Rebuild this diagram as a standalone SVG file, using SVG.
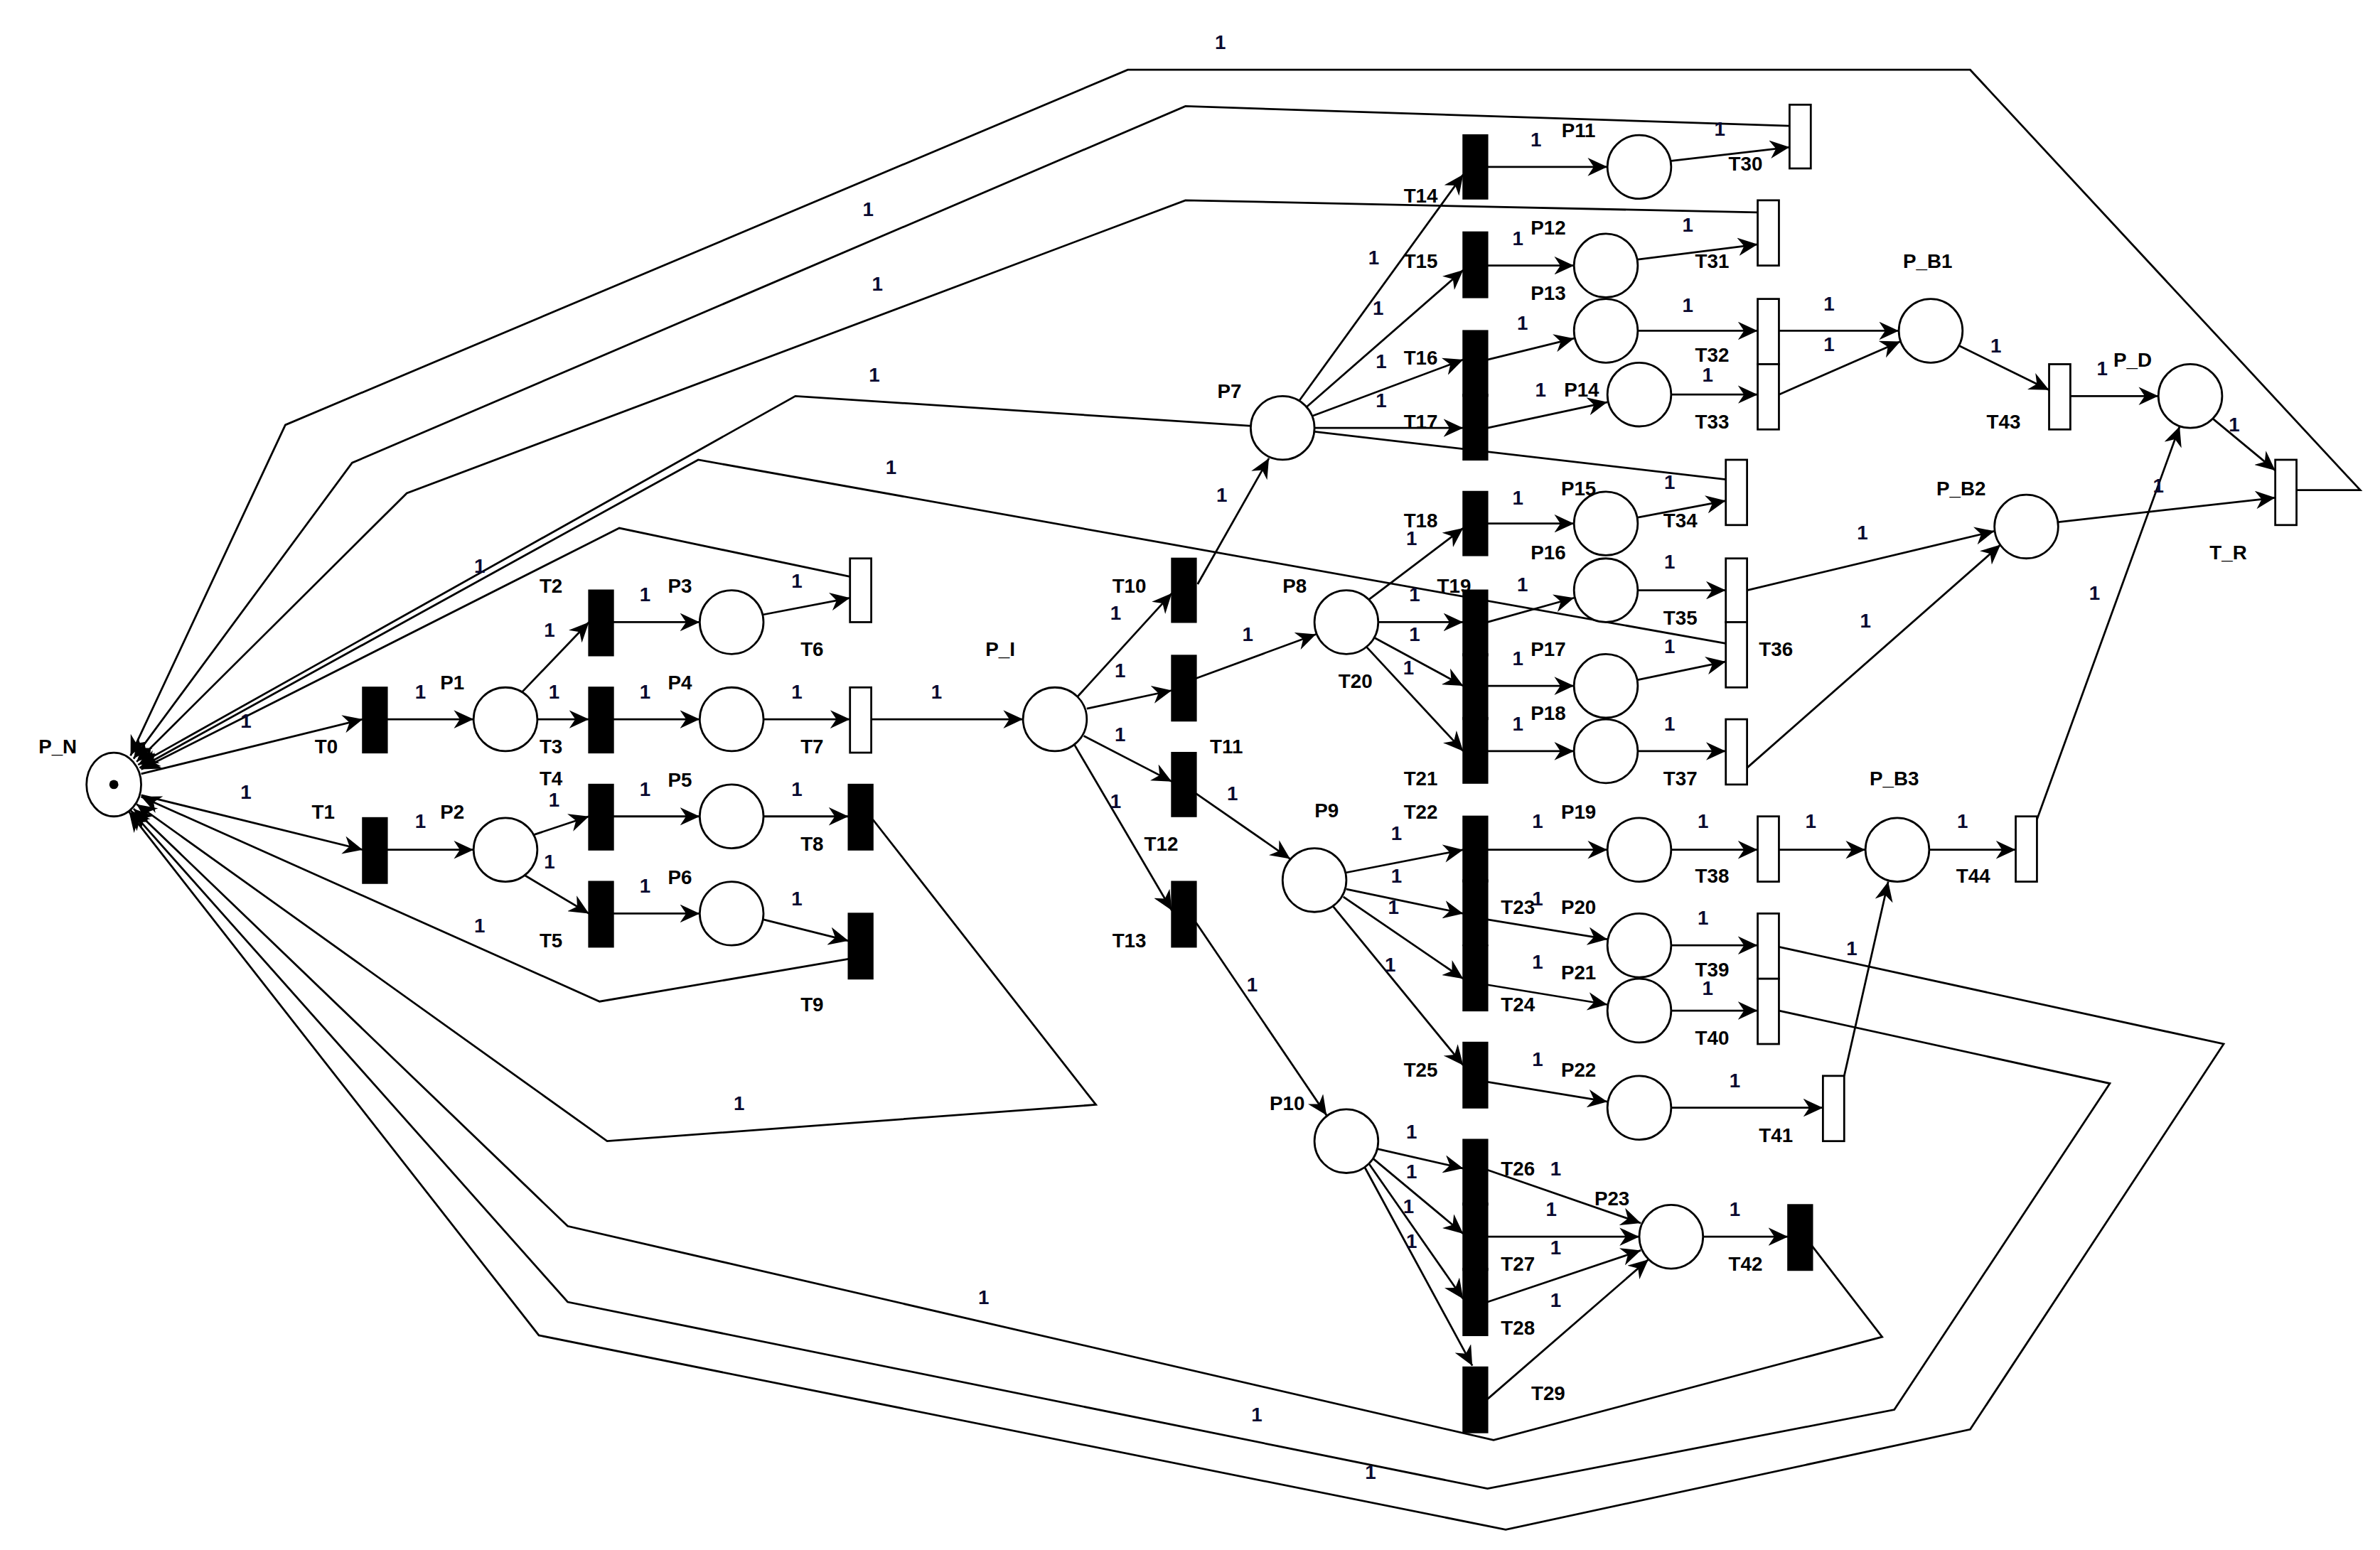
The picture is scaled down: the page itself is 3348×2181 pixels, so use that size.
<svg xmlns="http://www.w3.org/2000/svg" width="3348" height="2181" viewBox="0 0 3348 2181">
<style>
.pl{fill:#fff;stroke:#000;stroke-width:1.3}
.tb{fill:#000;stroke:#000;stroke-width:1}
.tw{fill:#fff;stroke:#000;stroke-width:1.3}
.e{fill:none;stroke:#000;stroke-width:1.3}
.a{marker-end:url(#ar)}
text{font-family:"Liberation Sans",Arial,sans-serif;font-weight:bold;font-size:13px;fill:#000;text-anchor:middle;dominant-baseline:central}
.w{fill:#0a0a30}
</style>
<defs>
<marker id="ar" markerWidth="14" markerHeight="12" refX="13" refY="6" orient="auto" markerUnits="userSpaceOnUse">
<path d="M0,0 L13,6 L0,12 L4,6 z" fill="#000"/>
</marker>
</defs>
<rect width="3348" height="2181" fill="#fff"/>
<g transform="scale(2.1352)">
<g id="connectors">
<path class="e a" d="M93,510L239,474"/>
<path class="e a" d="M93,524L239,560"/>
<path class="e a" d="M255,474L312,474"/>
<path class="e a" d="M255,560L312,560"/>
<path class="e a" d="M344,456L388,410"/>
<path class="e a" d="M354,474L388,474"/>
<path class="e a" d="M352,550L388,538"/>
<path class="e a" d="M346,577L388,602"/>
<path class="e a" d="M404,410L461,410"/>
<path class="e a" d="M404,474L461,474"/>
<path class="e a" d="M404,538L461,538"/>
<path class="e a" d="M404,602L461,602"/>
<path class="e a" d="M503,405L560,394"/>
<path class="e a" d="M503,474L560,474"/>
<path class="e a" d="M503,538L559,538"/>
<path class="e a" d="M503,606L559,620"/>
<path class="e a" d="M574,474L674,474"/>
<path class="e a" d="M710,459L772,391"/>
<path class="e a" d="M716,467L772,455"/>
<path class="e a" d="M714,485L772,515"/>
<path class="e a" d="M708,491L772,600"/>
<path class="e a" d="M789,385L836,302"/>
<path class="e a" d="M788,447L867,418"/>
<path class="e a" d="M788,523L850,566"/>
<path class="e a" d="M788,608L874,735"/>
<path class="e a" d="M856,264L964,115"/>
<path class="e a" d="M861,268L964,178"/>
<path class="e a" d="M865,274L964,237"/>
<path class="e a" d="M866,282L964,282"/>
<path class="e a" d="M980,110L1059,110"/>
<path class="e a" d="M980,175L1037,175"/>
<path class="e a" d="M980,237L1037,223"/>
<path class="e a" d="M980,282L1059,265"/>
<path class="e a" d="M902,395L964,348"/>
<path class="e a" d="M908,410L964,410"/>
<path class="e a" d="M905,420L964,452"/>
<path class="e a" d="M900,426L964,495"/>
<path class="e a" d="M980,345L1037,345"/>
<path class="e a" d="M980,410L1037,394"/>
<path class="e a" d="M980,452L1037,452"/>
<path class="e a" d="M980,495L1037,495"/>
<path class="e a" d="M887,575L964,560"/>
<path class="e a" d="M887,586L964,602"/>
<path class="e a" d="M885,591L964,645"/>
<path class="e a" d="M878,597L964,702"/>
<path class="e a" d="M980,560L1059,560"/>
<path class="e a" d="M980,606L1059,619"/>
<path class="e a" d="M980,649L1059,662"/>
<path class="e a" d="M980,713L1059,726"/>
<path class="e a" d="M907,757L964,770"/>
<path class="e a" d="M904,763L964,813"/>
<path class="e a" d="M902,767L964,856"/>
<path class="e a" d="M899,769L970,900"/>
<path class="e a" d="M980,771L1081,806"/>
<path class="e a" d="M980,815L1080,815"/>
<path class="e a" d="M980,858L1081,824"/>
<path class="e a" d="M980,922L1086,830"/>
<path class="e a" d="M1122,815L1178,815"/>
<path class="e a" d="M1101,106L1179,97"/>
<path class="e a" d="M1079,171L1158,161"/>
<path class="e a" d="M1079,218L1158,218"/>
<path class="e a" d="M1101,260L1158,260"/>
<path class="e a" d="M1079,341L1137,330"/>
<path class="e a" d="M1079,389L1137,389"/>
<path class="e a" d="M1079,448L1137,436"/>
<path class="e a" d="M1079,495L1137,495"/>
<path class="e a" d="M1101,560L1158,560"/>
<path class="e a" d="M1101,623L1158,623"/>
<path class="e a" d="M1101,666L1158,666"/>
<path class="e a" d="M1101,730L1201,730"/>
<path class="e a" d="M1172,218L1251,218"/>
<path class="e a" d="M1172,260L1252,225"/>
<path class="e a" d="M1151,389L1314,350"/>
<path class="e a" d="M1151,506L1318,359"/>
<path class="e a" d="M1172,560L1229,560"/>
<path class="e a" d="M1215,709L1244,581"/>
<path class="e a" d="M1291,228L1350,257"/>
<path class="e a" d="M1364,261L1422,261"/>
<path class="e a" d="M1271,560L1328,560"/>
<path class="e a" d="M1342,540L1436,281"/>
<path class="e a" d="M1356,344L1499,328"/>
<path class="e a" d="M1458,276L1499,310"/>
<path class="e a" d="M560,380L408,348L93,507"/>
<path class="e a" d="M1179,83L781,70L232,305L88,500"/>
<path class="e a" d="M1158,140L781,132L268,325L90,502"/>
<path class="e a" d="M1513,323L1555,323L1298,46L743,46L188,280L86,498"/>
<path class="e a" d="M1137,316L845,282L524,261L91,504"/>
<path class="e a" d="M1137,424L460,303L92,506"/>
<path class="e a" d="M559,632L395,660L93,525"/>
<path class="e a" d="M575,540L722,728L400,752L90,530"/>
<path class="e a" d="M1193,820L1240,881L984,949L374,808L88,533"/>
<path class="e a" d="M1172,666L1390,714L1248,929L980,981L374,858L86,534"/>
<path class="e a" d="M1172,624L1465,688L1298,942L992,1008L355,880L85,535"/>
</g>
<g id="P_N"><ellipse class="pl" cx="75" cy="517" rx="18" ry="21"/><circle cx="75" cy="517" r="3" fill="#000"/><text x="38" y="492">P_N</text></g>
<g id="P1"><circle class="pl" cx="333" cy="474" r="21"/><text x="298" y="450">P1</text></g>
<g id="P2"><circle class="pl" cx="333" cy="560" r="21"/><text x="298" y="535">P2</text></g>
<g id="P3"><circle class="pl" cx="482" cy="410" r="21"/><text x="448" y="386">P3</text></g>
<g id="P4"><circle class="pl" cx="482" cy="474" r="21"/><text x="448" y="450">P4</text></g>
<g id="P5"><circle class="pl" cx="482" cy="538" r="21"/><text x="448" y="514">P5</text></g>
<g id="P6"><circle class="pl" cx="482" cy="602" r="21"/><text x="448" y="578">P6</text></g>
<g id="P_I"><circle class="pl" cx="695" cy="474" r="21"/><text x="659" y="428">P_I</text></g>
<g id="P7"><circle class="pl" cx="845" cy="282" r="21"/><text x="810" y="258">P7</text></g>
<g id="P8"><circle class="pl" cx="887" cy="410" r="21"/><text x="853" y="386">P8</text></g>
<g id="P9"><circle class="pl" cx="866" cy="580" r="21"/><text x="874" y="534">P9</text></g>
<g id="P10"><circle class="pl" cx="887" cy="752" r="21"/><text x="848" y="727">P10</text></g>
<g id="P11"><circle class="pl" cx="1080" cy="110" r="21"/><text x="1040" y="86">P11</text></g>
<g id="P12"><circle class="pl" cx="1058" cy="175" r="21"/><text x="1020" y="150">P12</text></g>
<g id="P13"><circle class="pl" cx="1058" cy="218" r="21"/><text x="1020" y="193">P13</text></g>
<g id="P14"><circle class="pl" cx="1080" cy="260" r="21"/><text x="1042" y="257">P14</text></g>
<g id="P15"><circle class="pl" cx="1058" cy="345" r="21"/><text x="1040" y="322">P15</text></g>
<g id="P16"><circle class="pl" cx="1058" cy="389" r="21"/><text x="1020" y="364">P16</text></g>
<g id="P17"><circle class="pl" cx="1058" cy="452" r="21"/><text x="1020" y="428">P17</text></g>
<g id="P18"><circle class="pl" cx="1058" cy="495" r="21"/><text x="1020" y="470">P18</text></g>
<g id="P19"><circle class="pl" cx="1080" cy="560" r="21"/><text x="1040" y="535">P19</text></g>
<g id="P20"><circle class="pl" cx="1080" cy="623" r="21"/><text x="1040" y="598">P20</text></g>
<g id="P21"><circle class="pl" cx="1080" cy="666" r="21"/><text x="1040" y="641">P21</text></g>
<g id="P22"><circle class="pl" cx="1080" cy="730" r="21"/><text x="1040" y="705">P22</text></g>
<g id="P23"><circle class="pl" cx="1101" cy="815" r="21"/><text x="1062" y="790">P23</text></g>
<g id="P_B1"><circle class="pl" cx="1272" cy="218" r="21"/><text x="1270" y="172">P_B1</text></g>
<g id="P_B2"><circle class="pl" cx="1335" cy="347" r="21"/><text x="1292" y="322">P_B2</text></g>
<g id="P_B3"><circle class="pl" cx="1250" cy="560" r="21"/><text x="1248" y="513">P_B3</text></g>
<g id="P_D"><circle class="pl" cx="1443" cy="261" r="21"/><text x="1405" y="237">P_D</text></g>
<g id="T0"><rect class="tb" x="239" y="453" width="16" height="43"/><text x="215" y="492">T0</text></g>
<g id="T1"><rect class="tb" x="239" y="539" width="16" height="43"/><text x="213" y="535">T1</text></g>
<g id="T2"><rect class="tb" x="388" y="389" width="16" height="43"/><text x="363" y="386">T2</text></g>
<g id="T3"><rect class="tb" x="388" y="453" width="16" height="43"/><text x="363" y="492">T3</text></g>
<g id="T4"><rect class="tb" x="388" y="517" width="16" height="43"/><text x="363" y="513">T4</text></g>
<g id="T5"><rect class="tb" x="388" y="581" width="16" height="43"/><text x="363" y="620">T5</text></g>
<g id="T6"><rect class="tw" x="560" y="368" width="14" height="42"/><text x="535" y="428">T6</text></g>
<g id="T7"><rect class="tw" x="560" y="453" width="14" height="43"/><text x="535" y="492">T7</text></g>
<g id="T8"><rect class="tb" x="559" y="517" width="16" height="43"/><text x="535" y="556">T8</text></g>
<g id="T9"><rect class="tb" x="559" y="602" width="16" height="43"/><text x="535" y="662">T9</text></g>
<g id="T10"><rect class="tb" x="772" y="368" width="16" height="42"/><text x="744" y="386">T10</text></g>
<g id="T11"><rect class="tb" x="772" y="432" width="16" height="43"/><text x="808" y="492">T11</text></g>
<g id="T12"><rect class="tb" x="772" y="496" width="16" height="42"/><text x="765" y="556">T12</text></g>
<g id="T13"><rect class="tb" x="772" y="581" width="16" height="43"/><text x="744" y="620">T13</text></g>
<g id="T14"><rect class="tb" x="964" y="89" width="16" height="42"/><text x="936" y="129">T14</text></g>
<g id="T15"><rect class="tb" x="964" y="153" width="16" height="43"/><text x="936" y="172">T15</text></g>
<g id="T16"><rect class="tb" x="964" y="218" width="16" height="43"/><text x="936" y="236">T16</text></g>
<g id="T17"><rect class="tb" x="964" y="260" width="16" height="43"/><text x="936" y="278">T17</text></g>
<g id="T18"><rect class="tb" x="964" y="324" width="16" height="42"/><text x="936" y="343">T18</text></g>
<g id="T19"><rect class="tb" x="964" y="389" width="16" height="43"/><text x="958" y="386">T19</text></g>
<g id="T20"><rect class="tb" x="964" y="431" width="16" height="43"/><text x="893" y="449">T20</text></g>
<g id="T21"><rect class="tb" x="964" y="473" width="16" height="43"/><text x="936" y="513">T21</text></g>
<g id="T22"><rect class="tb" x="964" y="538" width="16" height="43"/><text x="936" y="535">T22</text></g>
<g id="T23"><rect class="tb" x="964" y="580" width="16" height="43"/><text x="1000" y="598">T23</text></g>
<g id="T24"><rect class="tb" x="964" y="623" width="16" height="43"/><text x="1000" y="662">T24</text></g>
<g id="T25"><rect class="tb" x="964" y="687" width="16" height="43"/><text x="936" y="705">T25</text></g>
<g id="T26"><rect class="tb" x="964" y="751" width="16" height="43"/><text x="1000" y="770">T26</text></g>
<g id="T27"><rect class="tb" x="964" y="793" width="16" height="44"/><text x="1000" y="833">T27</text></g>
<g id="T28"><rect class="tb" x="964" y="836" width="16" height="44"/><text x="1000" y="875">T28</text></g>
<g id="T29"><rect class="tb" x="964" y="901" width="16" height="43"/><text x="1020" y="918">T29</text></g>
<g id="T30"><rect class="tw" x="1179" y="69" width="14" height="42"/><text x="1150" y="108">T30</text></g>
<g id="T31"><rect class="tw" x="1158" y="132" width="14" height="43"/><text x="1128" y="172">T31</text></g>
<g id="T32"><rect class="tw" x="1158" y="197" width="14" height="43"/><text x="1128" y="234">T32</text></g>
<g id="T33"><rect class="tw" x="1158" y="240" width="14" height="43"/><text x="1128" y="278">T33</text></g>
<g id="T34"><rect class="tw" x="1137" y="303" width="14" height="43"/><text x="1107" y="343">T34</text></g>
<g id="T35"><rect class="tw" x="1137" y="368" width="14" height="42"/><text x="1107" y="407">T35</text></g>
<g id="T36"><rect class="tw" x="1137" y="410" width="14" height="43"/><text x="1170" y="428">T36</text></g>
<g id="T37"><rect class="tw" x="1137" y="474" width="14" height="43"/><text x="1107" y="513">T37</text></g>
<g id="T38"><rect class="tw" x="1158" y="538" width="14" height="43"/><text x="1128" y="577">T38</text></g>
<g id="T39"><rect class="tw" x="1158" y="602" width="14" height="43"/><text x="1128" y="639">T39</text></g>
<g id="T40"><rect class="tw" x="1158" y="645" width="14" height="43"/><text x="1128" y="684">T40</text></g>
<g id="T41"><rect class="tw" x="1201" y="709" width="14" height="43"/><text x="1170" y="748">T41</text></g>
<g id="T42"><rect class="tb" x="1178" y="794" width="16" height="43"/><text x="1150" y="833">T42</text></g>
<g id="T43"><rect class="tw" x="1350" y="240" width="14" height="43"/><text x="1320" y="278">T43</text></g>
<g id="T44"><rect class="tw" x="1328" y="538" width="14" height="43"/><text x="1300" y="577">T44</text></g>
<g id="T_R"><rect class="tw" x="1499" y="303" width="14" height="43"/><text x="1468" y="364">T_R</text></g>
<g id="weights">
<text class="w" x="162" y="475">1</text><text class="w" x="162" y="522">1</text><text class="w" x="277" y="456">1</text><text class="w" x="277" y="541">1</text>
<text class="w" x="362" y="415">1</text><text class="w" x="365" y="456">1</text><text class="w" x="365" y="527">1</text><text class="w" x="362" y="568">1</text>
<text class="w" x="425" y="392">1</text><text class="w" x="425" y="456">1</text><text class="w" x="425" y="520">1</text><text class="w" x="425" y="584">1</text>
<text class="w" x="525" y="383">1</text><text class="w" x="525" y="456">1</text><text class="w" x="525" y="520">1</text><text class="w" x="525" y="592">1</text>
<text class="w" x="617" y="456">1</text><text class="w" x="735" y="404">1</text><text class="w" x="738" y="442">1</text><text class="w" x="738" y="484">1</text><text class="w" x="735" y="528">1</text>
<text class="w" x="805" y="326">1</text><text class="w" x="822" y="418">1</text><text class="w" x="812" y="523">1</text><text class="w" x="825" y="649">1</text>
<text class="w" x="905" y="170">1</text><text class="w" x="908" y="203">1</text><text class="w" x="910" y="238">1</text><text class="w" x="910" y="264">1</text>
<text class="w" x="1012" y="92">1</text><text class="w" x="1000" y="157">1</text><text class="w" x="1003" y="213">1</text><text class="w" x="1015" y="257">1</text>
<text class="w" x="930" y="355">1</text><text class="w" x="932" y="392">1</text><text class="w" x="932" y="418">1</text><text class="w" x="928" y="440">1</text>
<text class="w" x="1000" y="328">1</text><text class="w" x="1003" y="385">1</text><text class="w" x="1000" y="434">1</text><text class="w" x="1000" y="477">1</text>
<text class="w" x="920" y="549">1</text><text class="w" x="920" y="577">1</text><text class="w" x="918" y="598">1</text><text class="w" x="916" y="636">1</text>
<text class="w" x="1013" y="541">1</text><text class="w" x="1013" y="592">1</text><text class="w" x="1013" y="634">1</text><text class="w" x="1013" y="698">1</text>
<text class="w" x="930" y="746">1</text><text class="w" x="930" y="772">1</text><text class="w" x="928" y="795">1</text><text class="w" x="930" y="818">1</text>
<text class="w" x="1025" y="770">1</text><text class="w" x="1022" y="797">1</text><text class="w" x="1025" y="822">1</text><text class="w" x="1025" y="857">1</text>
<text class="w" x="1143" y="797">1</text><text class="w" x="1133" y="85">1</text><text class="w" x="1112" y="148">1</text><text class="w" x="1112" y="201">1</text><text class="w" x="1125" y="247">1</text>
<text class="w" x="1100" y="318">1</text><text class="w" x="1100" y="370">1</text><text class="w" x="1100" y="426">1</text><text class="w" x="1100" y="477">1</text>
<text class="w" x="1122" y="541">1</text><text class="w" x="1122" y="605">1</text><text class="w" x="1125" y="651">1</text><text class="w" x="1143" y="712">1</text>
<text class="w" x="1205" y="200">1</text><text class="w" x="1205" y="227">1</text><text class="w" x="1227" y="351">1</text><text class="w" x="1229" y="409">1</text>
<text class="w" x="1193" y="541">1</text><text class="w" x="1220" y="625">1</text><text class="w" x="1315" y="228">1</text><text class="w" x="1385" y="243">1</text>
<text class="w" x="1293" y="541">1</text><text class="w" x="1380" y="391">1</text><text class="w" x="1422" y="320">1</text><text class="w" x="1472" y="280">1</text>
<text class="w" x="316" y="373">1</text><text class="w" x="572" y="138">1</text><text class="w" x="578" y="187">1</text><text class="w" x="804" y="28">1</text>
<text class="w" x="576" y="247">1</text><text class="w" x="587" y="308">1</text><text class="w" x="316" y="610">1</text><text class="w" x="487" y="727">1</text>
<text class="w" x="648" y="855">1</text><text class="w" x="828" y="932">1</text><text class="w" x="903" y="970">1</text>
</g>
</g>
</svg>
